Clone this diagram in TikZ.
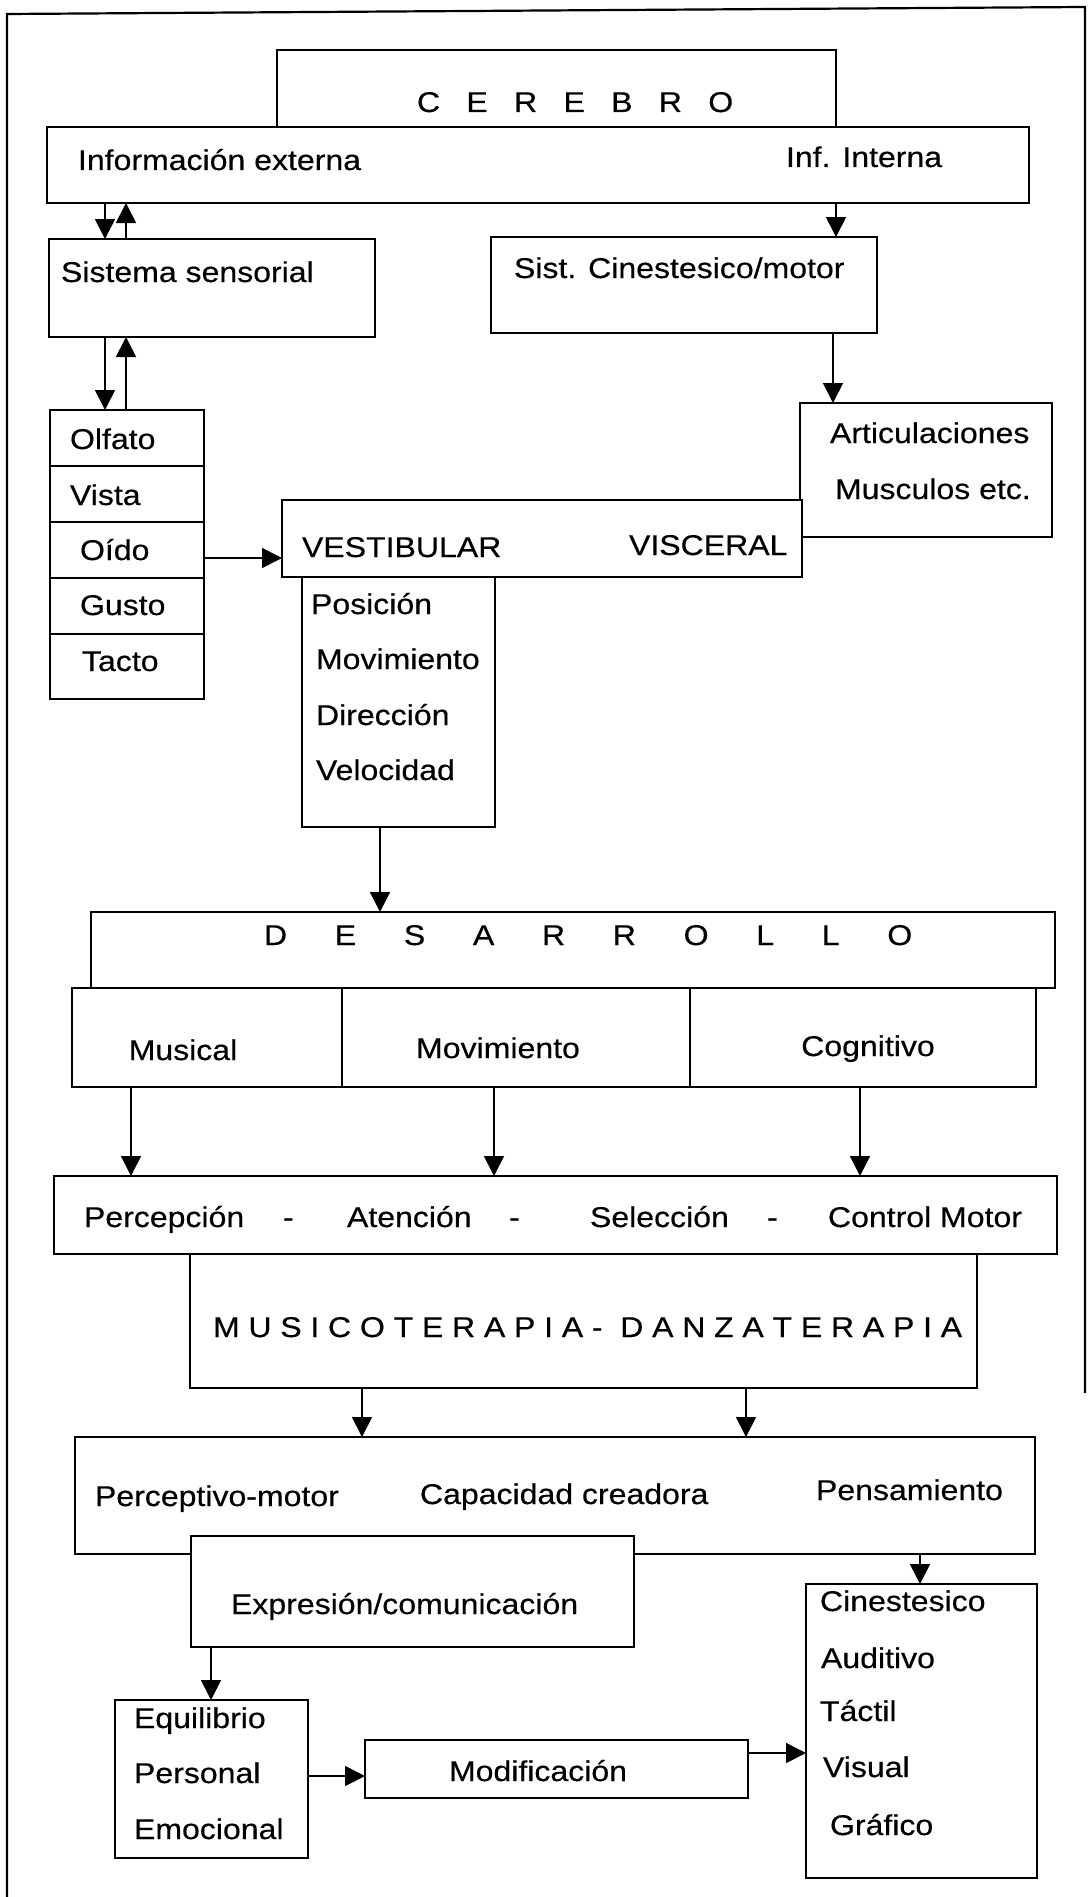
\documentclass[tikz,border=0pt]{standalone}
\usepackage{fontspec}
\setmainfont{Liberation Sans}[FakeStretch=1.12, FakeBold=0.4]
\usetikzlibrary{arrows.meta}

% letter-spaced capitals: a kern after every character
\newdimen\trkgap
\makeatletter
\def\trk#1{\trk@i#1\@nil}
\def\trk@i#1{\ifx#1\@nil\else#1\kern\trkgap\expandafter\trk@i\fi}
\makeatother

% rectangle given by its corners: name, x1, y1, x2, y2
\newcommand\panel[5]{%
  \node[box, minimum width={(#4-#2)*1pt}, minimum height={(#5-#3)*1pt}]
    (#1) at ({(#2+#4)/2},{(#3+#5)/2}) {};}

\tikzset{
  box/.style={draw, line width=2.2pt, fill=white, inner sep=0pt, outer sep=0pt},
  lbl/.style={anchor=base west, inner sep=0pt, outer sep=0pt},
  ctr/.style={anchor=base, inner sep=0pt, outer sep=0pt},
  link/.style={line width=1.7pt, -{Triangle[length=20pt,width=20pt]}},
  frame/.style={line width=2.2pt},
}

\begin{document}
\begin{tikzpicture}[x=1pt, y=-1pt, font=\fontsize{28.6pt}{34pt}\selectfont]
\fill[white] (0,0) rectangle (1091,1897);
\useasboundingbox (0,0) rectangle (1091,1897);

% outer frame
\draw[frame] (1085,1393) -- (1085,7) -- (7,14) -- (7,1897);

% boxes
\panel{cerebro}{277}{50}{836}{127}
\panel{info}{47}{127}{1029}{203}
\panel{sens}{49}{239}{375}{337}
\panel{cine}{491}{237}{877}{333}
\panel{artic}{800}{403}{1052}{537}
\panel{olfato}{50}{410}{204}{466}
\panel{vista}{50}{466}{204}{522}
\panel{oido}{50}{522}{204}{578}
\panel{gusto}{50}{578}{204}{634}
\panel{tacto}{50}{634}{204}{699}
\panel{vest}{282}{500}{802}{577}
\panel{posic}{302}{577}{495}{827}
\panel{desarr}{91}{912}{1055}{988}
\panel{musical}{72}{988}{342}{1087}
\panel{movim}{342}{988}{690}{1087}
\panel{cogn}{690}{988}{1036}{1087}
\panel{percep}{54}{1176}{1057}{1254}
\panel{musico}{190}{1254}{977}{1388}
\panel{percmot}{75}{1437}{1035}{1554}
\panel{expres}{191}{1536}{634}{1647}
\panel{cinest}{806}{1584}{1037}{1878}
\panel{equil}{115}{1700}{308}{1858}
\panel{modif}{365}{1740}{748}{1798}

% texts
\node[lbl] (tcerebro) at (417,112) {{\spaceskip=26.3pt\relax C E R E B R O}};
\node[lbl] (tinfoext) at (78,170) {Información externa};
\node[lbl] (tinfoint) at (786,167) {Inf. Interna};
\node[lbl] (tsens) at (61,282) {Sistema sensorial};
\node[lbl] (tcine) at (514,278) {Sist. Cinestesico/motor};
\node[lbl] (tolfato) at (70,449) {Olfato};
\node[lbl] (tvista) at (70,505) {Vista};
\node[lbl] (toido) at (80,560) {Oído};
\node[lbl] (tgusto) at (80,615) {Gusto};
\node[lbl] (ttacto) at (82,671) {Tacto};
\node[lbl] (tartic) at (830,443) {Articulaciones};
\node[lbl] (tmusc) at (835,499) {Musculos etc.};
\node[lbl] (tvest) at (302,557) {VESTIBULAR};
\node[lbl] (tvisc) at (629,555) {VISCERAL};
\node[lbl] (tpos) at (311,614) {Posición};
\node[lbl] (tmov) at (316,669) {Movimiento};
\node[lbl] (tdir) at (316,725) {Dirección};
\node[lbl] (tvel) at (316,780) {Velocidad};
\node[lbl] (tdesarr) at (264,945) {{\spaceskip=47.7pt\relax D E S A R R O L L O}};
\node[ctr] (tmusical) at (183,1060) {Musical};
\node[ctr] (tmovim) at (498,1058) {Movimiento};
\node[ctr] (tcogn) at (868,1056) {Cognitivo};
\node[lbl] (tp1) at (84,1227) {Percepción};
\node[lbl] (td1) at (283,1227) {-};
\node[lbl] (tp2) at (347,1227) {Atención};
\node[lbl] (td2) at (509,1227) {-};
\node[lbl] (tp3) at (590,1227) {Selección};
\node[lbl] (td3) at (767,1227) {-};
\node[lbl] (tp4) at (828,1227) {Control Motor};
\node[lbl] (tmusico) at (213,1337) {\trkgap=8.75pt\trk{MUSICOTERAPIA-} \trk{DANZATERAPIA}};
\node[lbl] (tpm) at (95,1506) {Perceptivo-motor};
\node[lbl] (tcap) at (420,1504) {Capacidad creadora};
\node[lbl] (tpens) at (816,1500) {Pensamiento};
\node[lbl] (texpr) at (231,1614) {Expresión/comunicación};
\node[lbl] (tcin) at (820,1611) {Cinestesico};
\node[lbl] (taud) at (821,1668) {Auditivo};
\node[lbl] (ttac) at (820,1721) {Táctil};
\node[lbl] (tvis) at (823,1777) {Visual};
\node[lbl] (tgraf) at (830,1835) {Gráfico};
\node[lbl] (tequi) at (134,1728) {Equilibrio};
\node[lbl] (tpers) at (134,1783) {Personal};
\node[lbl] (temo) at (134,1839) {Emocional};
\node[lbl] (tmodif) at (449,1781) {Modificación};

% guide lines for the connectors
\coordinate (vA) at (105,0);
\coordinate (vB) at (126,0);
\coordinate (vC) at (836,0);
\coordinate (vL) at (833,0);
\coordinate (vD) at (380,0);
\coordinate (vE) at (131,0);
\coordinate (vF) at (494,0);
\coordinate (vG) at (860,0);
\coordinate (vH) at (362,0);
\coordinate (vI) at (746,0);
\coordinate (vJ) at (920,0);
\coordinate (vK) at (211,0);
\coordinate (hA) at (0,558);
\coordinate (hB) at (0,1776);
\coordinate (hC) at (0,1753);

% connectors
\draw[link] (vA |- info.south) -- (vA |- sens.north);
\draw[link] (vB |- sens.north) -- (vB |- info.south);
\draw[link] (vC |- info.south) -- (vC |- cine.north);
\draw[link] (vA |- sens.south) -- (vA |- olfato.north);
\draw[link] (vB |- olfato.north) -- (vB |- sens.south);
\draw[link] (vL |- cine.south) -- (vL |- artic.north);
\draw[link] (hA -| oido.east) -- (hA -| vest.west);
\draw[link] (vD |- posic.south) -- (vD |- desarr.north);
\draw[link] (vE |- musical.south) -- (vE |- percep.north);
\draw[link] (vF |- movim.south) -- (vF |- percep.north);
\draw[link] (vG |- cogn.south) -- (vG |- percep.north);
\draw[link] (vH |- musico.south) -- (vH |- percmot.north);
\draw[link] (vI |- musico.south) -- (vI |- percmot.north);
\draw[link] (vJ |- percmot.south) -- (vJ |- cinest.north);
\draw[link] (vK |- expres.south) -- (vK |- equil.north);
\draw[link] (hB -| equil.east) -- (hB -| modif.west);
\draw[link] (hC -| modif.east) -- (hC -| cinest.west);
\end{tikzpicture}
\end{document}
